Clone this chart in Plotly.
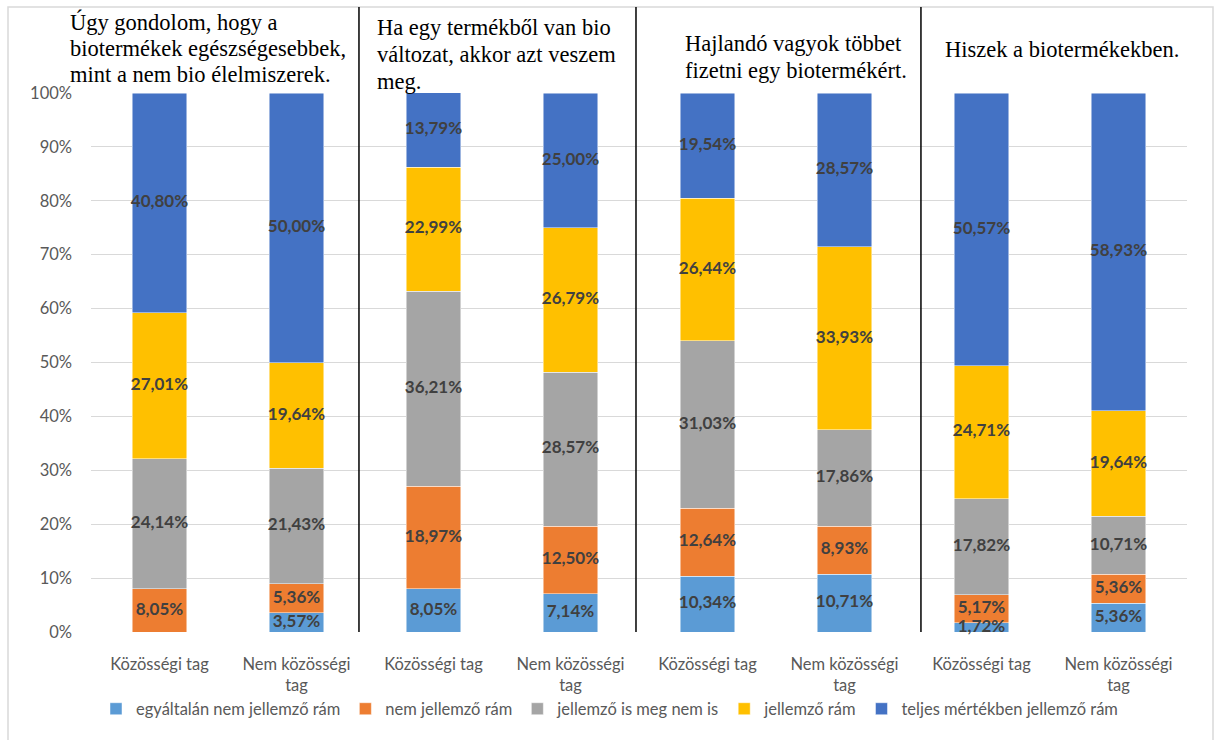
import plotly.graph_objects as go

# Respondent groups, two per statement
groups = ["Közösségi tag", "Nem közösségi<br>tag"] * 4
statements = [
    ["Úgy gondolom, hogy a", "biotermékek egészségesebbek,", "mint a nem bio élelmiszerek."],
    ["Ha egy termékből van bio", "változat, akkor azt veszem", "meg."],
    ["Hajlandó vagyok többet", "fizetni egy biotermékért."],
    ["Hiszek a biotermékekben."],
]
y_ticks = [0, 10, 20, 30, 40, 50, 60, 70, 80, 90, 100]

# Answer shares (%) per bar, bottom to top
egyaltalan_nem = [0.00, 3.57, 8.05, 7.14, 10.34, 10.71, 1.72, 5.36]
nem_jellemzo = [8.05, 5.36, 18.97, 12.50, 12.64, 8.93, 5.17, 5.36]
is_meg_nem_is = [24.14, 21.43, 36.21, 28.57, 31.03, 17.86, 17.82, 10.71]
jellemzo = [27.01, 19.64, 22.99, 26.79, 26.44, 33.93, 24.71, 19.64]
teljes = [40.80, 50.00, 13.79, 25.00, 19.54, 28.57, 50.57, 58.93]

series = [
    ("egyáltalán nem jellemző rám", egyaltalan_nem, "#5B9BD5"),
    ("nem jellemző rám", nem_jellemzo, "#ED7D31"),
    ("jellemző is meg nem is", is_meg_nem_is, "#A5A5A5"),
    ("jellemző rám", jellemzo, "#FFC000"),
    ("teljes mértékben jellemző rám", teljes, "#4472C4"),
]

W, H = 1219, 740
PX_L, PX_R = 91, 1187        # plot area, pixels
PY_TOP, PY_BOT = 93, 632

x = list(range(len(groups)))


def fmt(v):
    return (f"{v:.2f}".replace(".", ",") + "%") if v > 0 else ""


fig = go.Figure()
for name, vals, color in series:
    fig.add_trace(go.Bar(
        x=x, y=vals, name=name,
        marker=dict(color=color, line=dict(color="rgba(255,255,255,0.6)", width=0.8)),
        width=0.4,
        hoverinfo="skip",
    ))

# Value labels centred in each stacked segment
lab_x, lab_y, lab_t = [], [], []
base = [0.0] * len(x)
for _, vals, _ in series:
    for i, v in enumerate(vals):
        if v > 0:
            lab_x.append(x[i])
            lab_y.append(base[i] + v / 2)
            lab_t.append(fmt(v))
        base[i] += v
fig.add_trace(go.Scatter(
    x=lab_x, y=lab_y, text=lab_t, mode="text",
    textposition="middle center",
    textfont=dict(family="Lato", size=17, color="#404040", weight="bold"),
    showlegend=False, hoverinfo="skip", cliponaxis=False,
))

dom_x = [PX_L / W, PX_R / W]
dom_y = [(H - PY_BOT) / H, (H - PY_TOP) / H]

fig.update_layout(
    width=W, height=H,
    margin=dict(l=0, r=0, t=0, b=0, autoexpand=False),
    barmode="stack",
    plot_bgcolor="white",
    paper_bgcolor="white",
    font=dict(family="Lato", size=16.5, color="#595959"),
    xaxis=dict(
        domain=dom_x, range=[-0.5, 7.5], automargin=False,
        tickvals=x, ticktext=groups,
        showgrid=False, zeroline=False, showline=False,
        ticks="", ticklabelstandoff=20,
        tickfont=dict(family="Lato", size=16.5, color="#595959"),
    ),
    yaxis=dict(
        domain=dom_y, range=[0, 100], automargin=False,
        tickvals=y_ticks, ticktext=[f"{t}%" for t in y_ticks],
        showgrid=True, gridcolor="#D9D9D9", gridwidth=1,
        zeroline=False, showline=False, ticks="",
        ticklabelstandoff=18,
        tickfont=dict(family="Lato", size=16.5, color="#595959"),
    ),
    legend=dict(
        orientation="h", x=0.5, xanchor="center", y=(H - 709) / H, yanchor="middle",
        font=dict(family="Lato", size=16.5, color="#595959"),
        itemwidth=30, traceorder="normal", bgcolor="rgba(0,0,0,0)",
    ),
    showlegend=True,
)

# Outer chart border
fig.add_shape(type="rect", xref="paper", yref="paper",
              x0=8 / W, x1=1213 / W, y0=-0.02, y1=(H - 7) / H,
              line=dict(color="#D9D9D9", width=1.5), layer="below")

# Separators between statements
for sx in (1.456, 3.478, 5.558):
    fig.add_shape(type="line", xref="x", yref="paper",
                  x0=sx, x1=sx, y0=dom_y[0], y1=(H - 7) / H,
                  line=dict(color="#000000", width=1.5))

# Statement headings, one annotation per line for tight line spacing
heading_pos = [(68, 22), (375, 28), (683, 44), (943, 50)]
LINE_STEP = 26.5
for lines, (px, py) in zip(statements, heading_pos):
    for k, line in enumerate(lines):
        fig.add_annotation(
            text=line, xref="paper", yref="paper",
            x=px / W, y=(H - (py + k * LINE_STEP)) / H,
            xanchor="left", yanchor="middle",
            align="left", showarrow=False,
            font=dict(family="Liberation Serif", size=22.5, color="#000000"),
        )

fig.write_html("out.html")
